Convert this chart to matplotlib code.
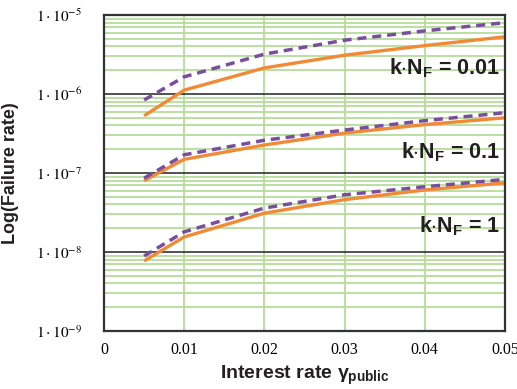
import numpy as np
import matplotlib.pyplot as plt
from matplotlib.ticker import FixedLocator, FixedFormatter, LogLocator, NullFormatter

plt.rcParams['mathtext.fontset'] = 'custom'
plt.rcParams['mathtext.rm'] = 'Liberation Sans:bold'
plt.rcParams['mathtext.it'] = 'Liberation Sans:bold'
plt.rcParams['mathtext.bf'] = 'Liberation Sans:bold'

rates = [0.005, 0.01, 0.02, 0.03, 0.04, 0.05]

# failure rate, solid curves
solid_001 = [5.3e-7, 1.12e-6, 2.14e-6, 3.1e-6, 4.1e-6, 5.3e-6]
solid_01 = [8.0e-8, 1.49e-7, 2.26e-7, 3.2e-7, 4.1e-7, 5.0e-7]
solid_1 = [7.7e-9, 1.55e-8, 3.1e-8, 4.6e-8, 6.1e-8, 7.5e-8]

# failure rate, dashed curves
dashed_001 = [8.4e-7, 1.65e-6, 3.2e-6, 4.8e-6, 6.3e-6, 8.0e-6]
dashed_01 = [8.6e-8, 1.7e-7, 2.6e-7, 3.5e-7, 4.6e-7, 5.8e-7]
dashed_1 = [8.9e-9, 1.8e-8, 3.6e-8, 5.3e-8, 6.7e-8, 8.3e-8]

curve_labels = ['0.01', '0.1', '1']
label_pos = [2.1e-6, 1.85e-7, 2.1e-8]

xticks = [0, 0.01, 0.02, 0.03, 0.04, 0.05]
xtick_labels = ['0', '0.01', '0.02', '0.03', '0.04', '0.05']
yticks = [1e-9, 1e-8, 1e-7, 1e-6, 1e-5]
ytick_labels = [r'$1\cdot10^{-9}$', r'$1\cdot10^{-8}$', r'$1\cdot10^{-7}$',
                r'$1\cdot10^{-6}$', r'$1\cdot10^{-5}$']

orange = '#F28A35'
purple = '#7A4E9E'
green = '#B4DE98'

fig = plt.figure(figsize=(5.17, 3.89), dpi=100)
ax = fig.add_axes([0.2012, 0.1491, 0.7756, 0.8123])

ax.set_yscale('log')
ax.set_xlim(0, 0.05)
ax.set_ylim(1e-9, 1e-5)

# grid: green minor lines, black decades
ax.yaxis.set_major_locator(FixedLocator(yticks))
ax.yaxis.set_minor_locator(LogLocator(base=10, subs=np.arange(2, 10)))
ax.yaxis.set_minor_formatter(NullFormatter())
ax.grid(True, which='minor', axis='y', color=green, lw=1.3)
ax.grid(True, which='major', axis='y', color='#222222', lw=1.1)
ax.set_xticks(xticks)
ax.grid(True, which='major', axis='x', color=green, lw=1.3)
ax.set_axisbelow(True)

for solid, dashed in [(solid_001, dashed_001), (solid_01, dashed_01), (solid_1, dashed_1)]:
    ax.plot(rates, solid, color=orange, lw=2.4, solid_capstyle='butt', clip_on=False)
    ax.plot(rates, dashed, color=purple, lw=2.5, dashes=(2.6, 1.7), clip_on=False)

for lab, yv in zip(curve_labels, label_pos):
    ax.text(0.0494, yv, r'k$\cdot$N$_\mathrm{F}$ = ' + lab, ha='right', va='center',
            fontsize=15.5, fontweight='bold', family='Liberation Sans', color='#231f20')

ax.xaxis.set_major_formatter(FixedFormatter(xtick_labels))
ax.yaxis.set_major_formatter(FixedFormatter(ytick_labels))
ax.tick_params(which='both', length=0)
ax.tick_params(axis='x', pad=8, labelsize=11.5)
ax.tick_params(axis='y', pad=16, labelsize=11)
for t in ax.get_xticklabels():
    t.set_family('Liberation Serif')
for t in ax.get_yticklabels():
    t.set_math_fontfamily('stix')

for s in ax.spines.values():
    s.set_color('#333333')
    s.set_linewidth(1.6)

ax.set_ylabel('Log(Failure rate)', fontsize=13, fontweight='bold',
              family='Liberation Sans', color='#231f20', labelpad=12)
ax.set_xlabel(r'Interest rate $\gamma_{\mathrm{public}}$', fontsize=14, fontweight='bold',
              family='Liberation Sans', color='#231f20', labelpad=4)

fig.savefig('out.png', dpi=100)
